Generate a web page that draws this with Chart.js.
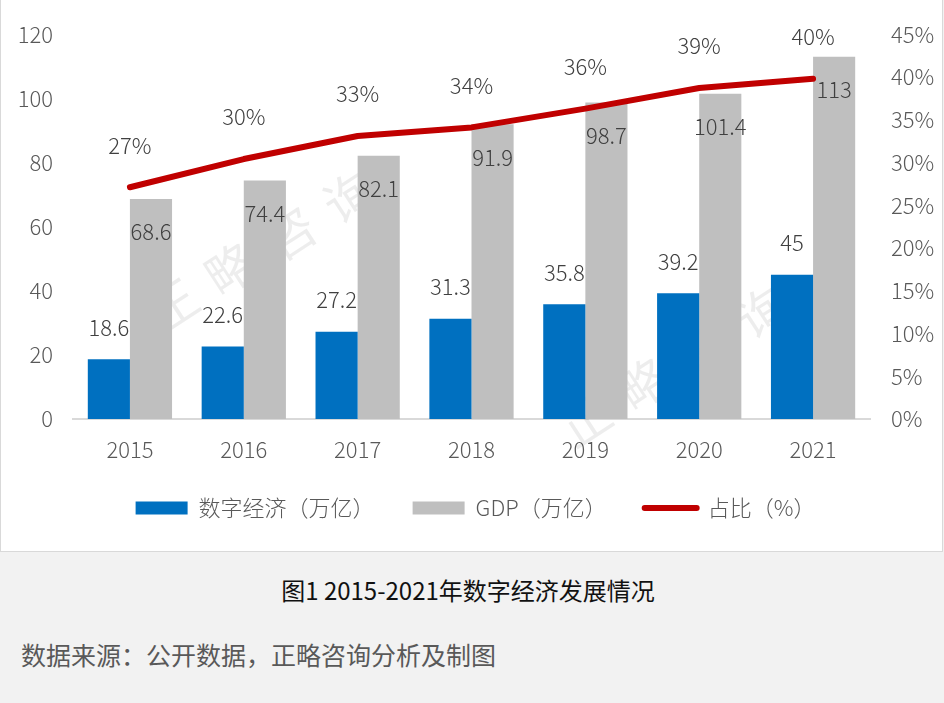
<!DOCTYPE html>
<html><head><meta charset="utf-8">
<script src="https://cdn.jsdelivr.net/npm/chart.js@4.4.1/dist/chart.umd.min.js"></script>
<style>
html,body{margin:0;padding:0;background:#f2f2f2;width:944px;height:703px;overflow:hidden;}
#panel{position:absolute;left:0;top:0;width:943px;height:552px;box-sizing:border-box;border:1px solid #d9d9d9;border-top:none;background:#fff;}
#wrap{position:absolute;left:0;top:0;width:941px;height:550px;}
#title{position:absolute;left:0;top:575px;width:936px;text-align:center;font-family:'Noto Sans CJK SC';font-size:24px;line-height:30px;color:#111;}
#source{position:absolute;left:21px;top:639px;font-family:'Noto Sans CJK SC';font-size:25px;line-height:30px;color:#595959;}
</style></head>
<body>
<div id="panel"><div id="wrap"><canvas id="c"></canvas></div></div>
<div id="title">图1 2015-2021年数字经济发展情况</div>
<div id="source">数据来源：公开数据，正略咨询分析及制图</div>
<script>
// ---- data ----
const years = ['2015', '2016', '2017', '2018', '2019', '2020', '2021'];
const digitalEconomy = [18.6, 22.6, 27.2, 31.3, 35.8, 39.2, 45];
const gdp = [68.6, 74.4, 82.1, 91.9, 98.7, 101.4, 113];
const sharePct = [27.1, 30.4, 33.1, 34.1, 36.3, 38.7, 39.8];
const seriesNames = ['数字经济（万亿）', 'GDP（万亿）', '占比（%）'];
const leftTicks = [0, 20, 40, 60, 80, 100, 120];
const rightTicks = [0, 5, 10, 15, 20, 25, 30, 35, 40, 45];

const FONT = "'Noto Sans CJK SC', 'Noto Sans', sans-serif";

const watermark = {
  id: 'watermark',
  beforeDatasetsDraw(chart) {
    const ctx = chart.ctx;
    ctx.save();
    ctx.font = "50px 'Noto Sans CJK SC'";
    ctx.fillStyle = 'rgba(0,0,0,0.07)';
    ctx.textAlign = 'center';
    ctx.textBaseline = 'middle';
    const chars = ['正', '略', '咨', '询'];
    const starts = [[172, 305], [585, 420]];
    starts.forEach(([sx, sy]) => {
      chars.forEach((ch, k) => {
        ctx.save();
        ctx.translate(sx + 59 * k - 1, sy - 36 * k);
        ctx.rotate(-33 * Math.PI / 180);
        ctx.fillText(ch, 0, 0);
        ctx.restore();
      });
    });
    ctx.restore();
  }
};

const valueLabels = {
  id: 'valueLabels',
  afterDatasetsDraw(chart) {
    const ctx = chart.ctx;
    ctx.save();
    ctx.font = '300 22px ' + FONT;
    ctx.fillStyle = '#404040';
    ctx.textAlign = 'center';
    ctx.textBaseline = 'middle';
    chart.data.datasets.forEach((ds, di) => {
      const meta = chart.getDatasetMeta(di);
      meta.data.forEach((el, i) => {
        const v = ds.data[i];
        let txt, y;
        if (ds.type === 'line') { txt = Math.round(v) + '%'; y = el.y - 42; }
        else if (di === 0) { txt = String(v); y = el.y - 32; }
        else { txt = String(v); y = el.y + 33; }
        ctx.fillText(txt, el.x, y);
      });
    });
    ctx.restore();
  }
};

const tickFont = { family: FONT, size: 22, weight: '300' };

new Chart(document.getElementById('c'), {
  data: {
    labels: years,
    datasets: [
      { type: 'bar', label: seriesNames[0], data: digitalEconomy, backgroundColor: '#0070c0', yAxisID: 'y', categoryPercentage: 0.74, barPercentage: 1 },
      { type: 'bar', label: seriesNames[1], data: gdp, backgroundColor: '#bfbfbf', yAxisID: 'y', categoryPercentage: 0.74, barPercentage: 1 },
      { type: 'line', label: seriesNames[2], data: sharePct, borderColor: '#c00000', backgroundColor: '#c00000', borderWidth: 6, pointRadius: 0, borderCapStyle: 'round', borderJoinStyle: 'round', yAxisID: 'y1', order: -1, tension: 0 }
    ]
  },
  options: {
    responsive: true,
    maintainAspectRatio: false,
    animation: false,
    devicePixelRatio: 1,
    layout: { padding: { left: 8, right: 0, top: 32, bottom: 21 } },
    plugins: {
      tooltip: { enabled: false },
      legend: {
        position: 'bottom',
        labels: {
          usePointStyle: true,
          pointStyleWidth: 52,
          boxHeight: 13,
          padding: 38,
          color: '#595959',
          font: { family: FONT, size: 22, weight: '300' },
          sort: (a, b) => a.datasetIndex - b.datasetIndex,
          generateLabels(chart) {
            return chart.data.datasets.map((ds, i) => ({
              text: ds.label,
              datasetIndex: i,
              fillStyle: ds.backgroundColor,
              strokeStyle: ds.borderColor || ds.backgroundColor,
              lineWidth: ds.type === 'line' ? 6 : 0,
              lineCap: 'round',
              pointStyle: ds.type === 'line' ? 'line' : 'rect',
              fontColor: '#595959',
              hidden: false
            }));
          }
        }
      }
    },
    scales: {
      x: {
        type: 'category',
        offset: true,
        grid: { display: false, drawTicks: false },
        border: { display: true, color: '#d9d9d9', width: 2 },
        ticks: { font: tickFont, color: '#595959', padding: 17 },
        afterFit(s) { s.height = 40; }
      },
      y: {
        position: 'left',
        min: leftTicks[0], max: leftTicks[leftTicks.length - 1],
        afterBuildTicks(s) { s.ticks = leftTicks.map(v => ({ value: v })); },
        grid: { display: false, drawTicks: false },
        border: { display: false },
        ticks: { font: tickFont, color: '#595959', padding: 20 },
        afterFit(s) { s.width = 64; }
      },
      y1: {
        position: 'right',
        min: rightTicks[0], max: rightTicks[rightTicks.length - 1],
        afterBuildTicks(s) { s.ticks = rightTicks.map(v => ({ value: v })); },
        grid: { display: false, drawTicks: false },
        border: { display: false },
        ticks: { font: tickFont, color: '#595959', padding: 21, callback: v => v + '%' },
        afterFit(s) { s.width = 72; }
      }
    }
  },
  plugins: [watermark, valueLabels]
});
</script>
</body></html>
